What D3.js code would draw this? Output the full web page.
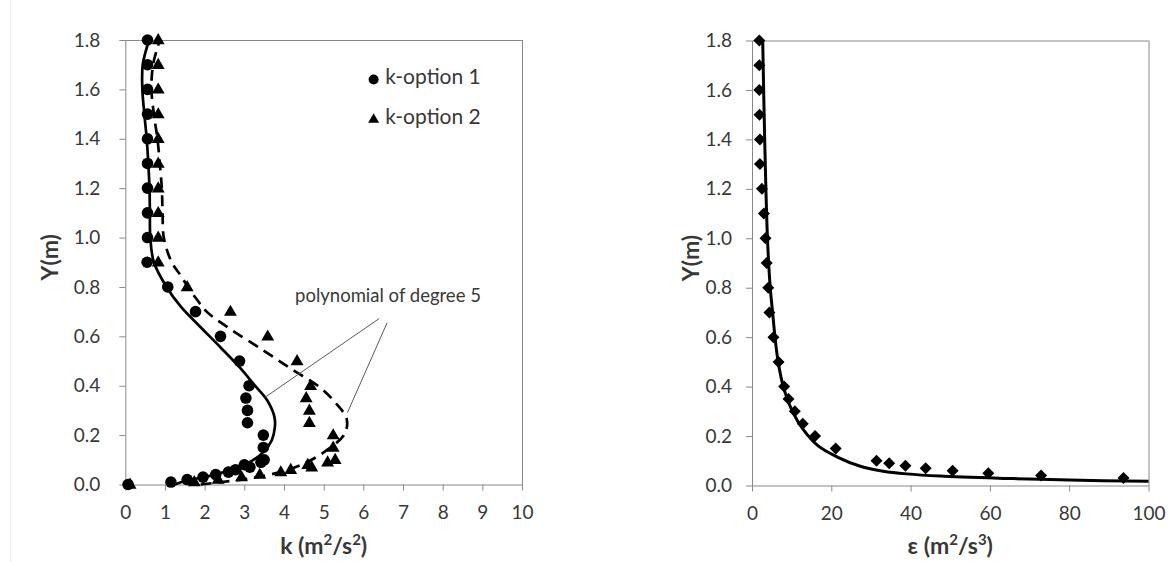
<!DOCTYPE html>
<html><head><meta charset="utf-8">
<script src="https://cdn.jsdelivr.net/npm/d3@7"></script>
<style>
body{margin:0;background:#fff}
text{font-family:Lato,'Noto Sans',sans-serif}
</style>
</head><body>
<svg id="chart" width="1169" height="562"></svg>
<script>
// ---------- data ----------
const yTicks = [0, 0.2, 0.4, 0.6, 0.8, 1.0, 1.2, 1.4, 1.6, 1.8];
const kTicks = [0, 1, 2, 3, 4, 5, 6, 7, 8, 9, 10];
const epsTicks = [0, 20, 40, 60, 80, 100];

// measured heights (m) for the k profiles
const yPts = [0, 0.01, 0.02, 0.03, 0.04, 0.05, 0.06, 0.07, 0.08, 0.09, 0.10, 0.15, 0.20, 0.25, 0.30, 0.35, 0.40, 0.50, 0.60, 0.70, 0.80, 0.90, 1.0, 1.1, 1.2, 1.3, 1.4, 1.5, 1.6, 1.7, 1.8];
const kOption1 = [0.07, 1.15, 1.56, 1.96, 2.28, 2.60, 2.78, 3.14, 3.00, 3.42, 3.50, 3.48, 3.48, 3.08, 3.08, 3.04, 3.12, 2.88, 2.40, 1.77, 1.07, 0.55, 0.56, 0.56, 0.56, 0.56, 0.56, 0.56, 0.56, 0.56, 0.56];
const kOption2 = [0.12, 1.74, 2.34, 2.93, 3.39, 3.92, 4.17, 4.70, 4.60, 5.10, 5.29, 5.24, 5.24, 4.64, 4.64, 4.56, 4.67, 4.33, 3.59, 2.65, 1.56, 0.83, 0.83, 0.83, 0.83, 0.83, 0.83, 0.83, 0.83, 0.83, 0.83];

// polynomial (degree 5) fits
const fit1Y = [0, 0.016, 0.032, 0.054, 0.084, 0.131, 0.178, 0.232, 0.273, 0.34, 0.40, 0.473, 0.557, 0.64, 0.72, 0.80, 0.90, 1.0, 1.1, 1.2, 1.3, 1.4, 1.5, 1.6, 1.7, 1.8];
const fit1K = [1.25, 1.55, 2.05, 2.55, 3.06, 3.48, 3.69, 3.77, 3.76, 3.58, 3.27, 2.89, 2.39, 1.88, 1.40, 1.04, 0.72, 0.63, 0.62, 0.61, 0.58, 0.54, 0.48, 0.43, 0.44, 0.60];
const fit2Y = [0, 0.009, 0.023, 0.05, 0.09, 0.138, 0.205, 0.266, 0.327, 0.394, 0.462, 0.543, 0.64, 0.70, 0.75, 0.80, 0.85, 0.90, 1.0, 1.1, 1.2, 1.3, 1.4, 1.5, 1.6, 1.7, 1.8];
const fit2K = [1.9, 2.39, 3.06, 3.90, 4.57, 5.07, 5.53, 5.58, 5.32, 4.90, 4.24, 3.48, 2.55, 2.05, 1.80, 1.58, 1.38, 1.17, 0.97, 0.94, 0.92, 0.87, 0.81, 0.72, 0.66, 0.70, 0.87];

// dissipation profile
const epsY = [0.03, 0.04, 0.05, 0.06, 0.07, 0.08, 0.09, 0.10, 0.15, 0.20, 0.25, 0.30, 0.35, 0.40, 0.50, 0.60, 0.70, 0.80, 0.90, 1.0, 1.1, 1.2, 1.3, 1.4, 1.5, 1.6, 1.7, 1.8];
const epsVal = [93.7, 72.9, 59.6, 50.6, 43.8, 38.7, 34.6, 31.4, 21.1, 15.9, 12.8, 10.8, 9.2, 8.1, 6.7, 5.4, 4.4, 4.1, 3.7, 3.4, 3.0, 2.5, 2.0, 2.0, 1.9, 1.85, 1.85, 1.85];
const fitEpsY = [0.017, 0.022, 0.028, 0.038, 0.047, 0.058, 0.078, 0.116, 0.16, 0.227, 0.30, 0.40, 0.50, 0.60, 0.70, 0.80, 1.0, 1.4, 1.8];
const fitEps = [100, 80, 66, 47.4, 39.0, 33.1, 27.3, 21.4, 16.7, 12.9, 10.2, 7.9, 6.6, 5.8, 5.2, 4.6, 3.9, 3.2, 2.7];

const legendLabels = ["k-option 1", "k-option 2"];
const annotationText = "polynomial of degree 5";

// ---------- drawing ----------
const svg = d3.select("#chart");
svg.append("rect").attr("width", 1169).attr("height", 562).attr("fill", "#fff");
svg.append("line").attr("x1", 10.5).attr("x2", 10.5).attr("y1", 0).attr("y2", 562)
  .attr("stroke", "#efefef").attr("stroke-width", 1);

const AX = "#888888", TXT = "#383838";

const xK = d3.scaleLinear([0, 10], [125.3, 522]);
const yL = d3.scaleLinear([0, 1.8], [484.5, 40]);
const xE = d3.scaleLinear([0, 100], [752, 1148.5]);
const yR = d3.scaleLinear([0, 1.8], [485.5, 40.5]);

function frame(x, y) {
  const g = svg.append("g");
  const [x0, x1] = x.range(), [y0, y1] = y.range();
  g.append("line").attr("x1", x0).attr("x2", x1).attr("y1", y1 + 0.5).attr("y2", y1 + 0.5).attr("stroke", AX);
  g.append("line").attr("x1", x1 + 0.5).attr("x2", x1 + 0.5).attr("y1", y1).attr("y2", y0).attr("stroke", AX);
}

function axes(x, y, xt, xTitle, supTitle, yPad, yTitleOff) {
  const gx = svg.append("g").attr("transform", `translate(0,${y.range()[0]})`)
    .call(d3.axisBottom(x).tickValues(xt).tickFormat(d3.format("d")).tickSize(6).tickSizeOuter(0).tickPadding(15));
  const gy = svg.append("g").attr("transform", `translate(${x.range()[0]},0)`)
    .call(d3.axisLeft(y).tickValues(yTicks).tickFormat(d3.format(".1f")).tickSize(6).tickSizeOuter(0).tickPadding(yPad));
  [gx, gy].forEach(g => {
    g.select(".domain").attr("stroke", AX);
    g.selectAll(".tick line").attr("stroke", AX);
    g.selectAll("text").attr("fill", TXT).style("font-size", "19px").style("font-family", "Lato");
  });
  const cx = (x.range()[0] + x.range()[1]) / 2;
  const t = svg.append("text").attr("x", cx).attr("y", 554).attr("text-anchor", "middle")
    .attr("fill", TXT).style("font-size", "23px").style("font-weight", "bold");
  t.append("tspan").text(xTitle[0]);
  t.append("tspan").text(supTitle[0]).attr("baseline-shift", "super").style("font-size", "15px");
  t.append("tspan").text(xTitle[1]);
  t.append("tspan").text(supTitle[1]).attr("baseline-shift", "super").style("font-size", "15px");
  t.append("tspan").text(xTitle[2]);
  const cy = (y.range()[0] + y.range()[1]) / 2 - 5;
  svg.append("text").attr("transform", `translate(${x.range()[0] - yTitleOff},${cy}) rotate(-90)`)
    .attr("text-anchor", "middle").attr("fill", TXT)
    .style("font-size", "23px").style("font-weight", "bold").text("Y(m)");
}

// ---- left chart ----
frame(xK, yL);
axes(xK, yL, kTicks, ["k (m", "/s", ")"], ["2", "2"], 19, 67);

const lineL1 = d3.line().x(d => xK(d[1])).y(d => yL(d[0])).curve(d3.curveCatmullRom.alpha(0.5));
svg.append("path").datum(fit1Y.map((v, i) => [v, fit1K[i]])).attr("d", lineL1)
  .attr("fill", "none").attr("stroke", "#000").attr("stroke-width", 2.7);
svg.append("path").datum(fit2Y.map((v, i) => [v, fit2K[i]])).attr("d", lineL1)
  .attr("fill", "none").attr("stroke", "#000").attr("stroke-width", 2.7).attr("stroke-dasharray", "11,7");

svg.append("g").selectAll("circle").data(yPts.map((v, i) => [v, kOption1[i]])).join("circle")
  .attr("cx", d => xK(d[1])).attr("cy", d => yL(d[0])).attr("r", 5.8).attr("fill", "#000");
const tri = d3.symbol().type(d3.symbolTriangle).size(72);
svg.append("g").selectAll("path").data(yPts.map((v, i) => [v, kOption2[i]])).join("path")
  .attr("d", tri).attr("transform", d => `translate(${xK(d[1])},${yL(d[0]) + 0.5})`).attr("fill", "#000");

// legend
const triS = d3.symbol().type(d3.symbolTriangle).size(52);
const lg = svg.append("g");
lg.append("circle").attr("cx", xK(6.26)).attr("cy", yL(1.64)).attr("r", 5).attr("fill", "#000");
lg.append("path").attr("d", triS).attr("transform", `translate(${xK(6.26)},${yL(1.478)})`).attr("fill", "#000");
lg.selectAll("text").data(legendLabels).join("text")
  .attr("x", xK(6.55)).attr("y", (d, i) => yL(i === 0 ? 1.622 : 1.46))
  .attr("fill", TXT).style("font-size", "21px").text(d => d);

// annotation
const ann = [[[6.40, 0.672], [3.52, 0.353]], [[6.60, 0.655], [5.60, 0.291]]];
svg.append("g").selectAll("line").data(ann).join("line")
  .attr("x1", d => xK(d[0][0])).attr("y1", d => yL(d[0][1]))
  .attr("x2", d => xK(d[1][0])).attr("y2", d => yL(d[1][1]))
  .attr("stroke", "#5a5a5a").attr("stroke-width", 1);
svg.append("text").attr("x", xK(4.28)).attr("y", yL(0.741)).attr("fill", TXT)
  .style("font-size", "18.5px").text(annotationText);

// ---- right chart ----
frame(xE, yR);
axes(xE, yR, epsTicks, ["ε (m", "/s", ")"], ["2", "3"], 14, 53);
svg.append("defs").append("clipPath").attr("id", "clipR").append("rect")
  .attr("x", 752).attr("y", 30).attr("width", 397).attr("height", 460);
const lineR = d3.line().x(d => xE(d[1])).y(d => yR(d[0])).curve(d3.curveCatmullRom.alpha(0.5));
svg.append("path").datum(fitEpsY.map((v, i) => [v, fitEps[i]])).attr("d", lineR)
  .attr("clip-path", "url(#clipR)")
  .attr("fill", "none").attr("stroke", "#000").attr("stroke-width", 3);
const dia = d3.symbol().type(d3.symbolSquare).size(72);
svg.append("g").selectAll("path").data(epsY.map((v, i) => [v, epsVal[i]])).join("path")
  .attr("d", dia).attr("transform", d => `translate(${xE(d[1])},${yR(d[0])}) rotate(45)`).attr("fill", "#000");
</script>
</body></html>
